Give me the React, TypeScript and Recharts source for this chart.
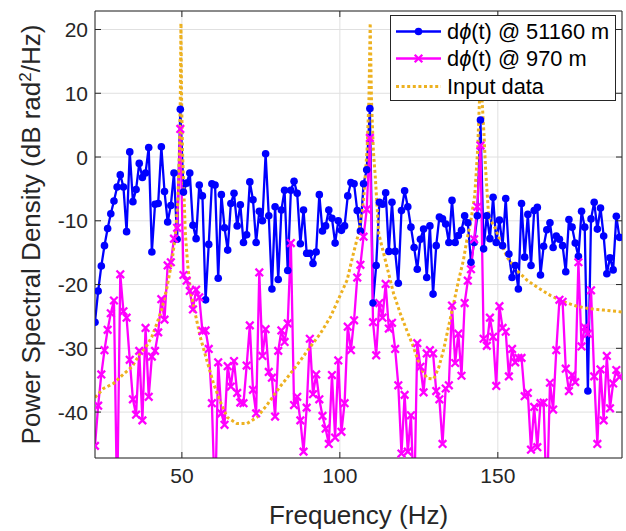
import React from "react";
import {
  LineChart,
  Line,
  XAxis,
  YAxis,
  CartesianGrid,
  Legend,
  ReferenceLine,
} from "recharts";

// frequency grid (Hz)
const freq = [
  22.5, 23.5, 24.5, 25.5, 26.5, 27.5, 28.5, 29.5, 30.5, 31.5,
  32.5, 33.5, 34.5, 35.5, 36.5, 37.5, 38.5, 39.5, 40.5, 41.5,
  42.5, 43.5, 44.5, 45.5, 46.5, 47.5, 48.5, 49.5, 50.5, 51.5,
  52.5, 53.5, 54.5, 55.5, 56.5, 57.5, 58.5, 59.5, 60.5, 61.5,
  62.5, 63.5, 64.5, 65.5, 66.5, 67.5, 68.5, 69.5, 70.5, 71.5,
  72.5, 73.5, 74.5, 75.5, 76.5, 77.5, 78.5, 79.5, 80.5, 81.5,
  82.5, 83.5, 84.5, 85.5, 86.5, 87.5, 88.5, 89.5, 90.5, 91.5,
  92.5, 93.5, 94.5, 95.5, 96.5, 97.5, 98.5, 99.5, 100.5, 101.5,
  102.5, 103.5, 104.5, 105.5, 106.5, 107.5, 108.5, 109.5, 110.5, 111.5,
  112.5, 113.5, 114.5, 115.5, 116.5, 117.5, 118.5, 119.5, 120.5, 121.5,
  122.5, 123.5, 124.5, 125.5, 126.5, 127.5, 128.5, 129.5, 130.5, 131.5,
  132.5, 133.5, 134.5, 135.5, 136.5, 137.5, 138.5, 139.5, 140.5, 141.5,
  142.5, 143.5, 144.5, 145.5, 146.5, 147.5, 148.5, 149.5, 150.5, 151.5,
  152.5, 153.5, 154.5, 155.5, 156.5, 157.5, 158.5, 159.5, 160.5, 161.5,
  162.5, 163.5, 164.5, 165.5, 166.5, 167.5, 168.5, 169.5, 170.5, 171.5,
  172.5, 173.5, 174.5, 175.5, 176.5, 177.5, 178.5, 179.5, 180.5, 181.5,
  182.5, 183.5, 184.5, 185.5, 186.5, 187.5, 188.5,
];

// dphi(t) @ 51160 m (dB rad^2/Hz)
const psdFar = [
  -25.9, -21.0, -17.1, -13.9, -11.2, -8.9, -6.9, -4.7, -2.8, -4.7,
  -11.7, 0.8, -7.0, -5.1, -1.0, -3.2, -2.5, 1.5, -14.9, -7.4,
  -7.3, 1.6, -5.4, -10.2, -7.6, -2.5, -12.9, 7.5, -5.5, -4.1,
  -2.5, -10.7, -12.8, -4.4, -6.1, -22.4, -13.7, -4.2, -4.4, -19.0,
  -5.9, -11.1, -14.6, -7.3, -5.7, -10.8, -7.5, -13.4, -12.2, -3.9,
  -6.7, -13.4, -8.5, -10.0, 0.5, -9.2, -20.7, -7.8, -19.2, -8.3,
  -5.2, -17.8, -5.2, -3.8, -5.7, -13.6, -8.3, -15.1, -15.1, -16.7,
  -14.9, -5.9, -11.6, -10.8, -8.3, -9.6, -13.5, -10.0, -11.5, -10.8,
  -6.1, -4.0, -4.2, -8.4, -11.6, -4.2, -2.0, 7.6, -22.9, -17.0,
  -7.1, -7.4, -5.6, -14.8, -7.1, -14.8, -19.8, -8.4, -5.3, -7.8,
  -11.0, -14.2, -17.6, -12.9, -11.3, -18.9, -10.8, -21.5, -13.9, -9.4,
  -9.7, -10.5, -13.4, -6.8, -13.4, -12.3, -11.5, -9.2, -10.3, -16.5,
  -13.4, -9.2, 5.8, -14.4, -9.2, -12.8, -6.3, -13.4, -9.9, -13.9,
  -6.5, -15.2, -18.9, -17.0, -20.7, -7.3, -15.7, -9.0, -17.0, -8.4,
  -7.9, -18.5, -14.0, -11.4, -10.3, -14.2, -12.4, -12.9, -13.9, -18.0,
  -9.8, -11.0, -13.5, -15.6, -8.5, -11.0, -36.7, -9.7, -7.1, -11.3,
  -8.0, -12.4, -18.3, -15.8, -17.7, -9.3, -12.6,
];

// dphi(t) @ 970 m (dB rad^2/Hz)
const psdNear = [
  -45.3, -39.0, -34.1, -30.3, -27.1, -24.5, -22.5, -55, -18.4, -24.2,
  -25.2, -31.8, -38.0, -40.4, -30.4, -41.3, -26.8, -37.6, -31.3, -30.4,
  -27.5, -22.3, -25.5, -17.0, -16.5, -12.8, -11.1, 4.4, -18.5, -19.4,
  -21.0, -23.9, -20.8, -22.0, -27.3, -27.2, -30.1, -38.6, -55, -32.2,
  -40.2, -42.0, -32.8, -36.0, -32.0, -37.0, -38.5, -38.6, -32.7, -26.4,
  -36.5, -40.2, -18.1, -31.2, -27.0, -33.7, -34.6, -40.7, -30.4, -27.2,
  -29.0, -26.1, -13.5, -38.9, -37.6, -41.3, -46.2, -39.3, -28.5, -37.2,
  -34.1, -38.0, -40.6, -42.6, -45.0, -34.2, -44.0, -31.9, -43.1, -38.6,
  -26.6, -30.3, -25.6, -18.9, -16.9, -12.5, -8.2, 3.0, -25.9, -31.1,
  -22.9, -25.2, -19.9, -26.9, -26.0, -30.1, -35.8, -46.5, -37.3, -46.2,
  -40.5, -55, -29.2, -32.9, -36.9, -30.8, -30.3, -30.8, -36.7, -38.0,
  -45.0, -36.3, -35.8, -23.3, -32.3, -27.7, -34.3, -22.9, -19.4, -17.6,
  -12.9, -7.8, 1.8, -28.5, -29.6, -25.2, -28.2, -35.9, -23.4, -26.8,
  -27.4, -34.4, -30.1, -32.2, -31.5, -31.5, -37.5, -37.0, -45.9, -39.2,
  -45.5, -38.6, -38.5, -55, -35.4, -39.6, -30.3, -22.4, -22.7, -33.2,
  -36.7, -34.2, -35.3, -16.5, -29.7, -26.7, -27.7, -20.9, -34.4, -45.0,
  -33.3, -41.3, -31.2, -39.4, -35.5, -33.4, -34.5,
];

// input data
const inputFreq = [
  22.5, 25.2, 28.4, 31.6, 34.2, 36.8, 39.0, 40.5, 42.1, 43.7,
  45.3, 46.9, 47.9, 48.7, 49.2, 49.5, 49.7, 49.9, 50.2, 50.6,
  51.1, 51.8, 52.7, 54.2, 55.8, 57.9, 60.0, 62.2, 64.3, 67.4,
  70.6, 73.8, 76.9, 81.1, 84.3, 87.5, 90.6, 93.8, 97.0, 100.1,
  102.3, 104.3, 105.9, 107.5, 108.6, 109.2, 109.6, 110.0, 110.6, 111.2,
  112.3, 112.8, 114.9, 117.0, 119.1, 121.2, 123.3, 125.4, 127.6, 129.7,
  131.3, 132.8, 134.4, 136.0, 137.6, 139.1, 140.2, 141.3, 142.7, 143.6,
  144.2, 144.6, 145.0, 145.6, 146.1, 147.1, 149.0, 150.8, 152.9, 156.1,
  159.2, 162.4, 166.6, 170.8, 175.0, 179.2, 183.5, 189.3,
];
const inputPsd = [
  -37.7, -36.3, -35.5, -34.0, -32.9, -30.8, -29.5, -28.2, -26.1, -23.8,
  -20.4, -16.2, -12.5, -7.0, 1.0, 9.0, 21.0, 9.0, 1.0, -5.0,
  -12.0, -16.7, -20.9, -24.5, -28.2, -31.9, -35.5, -38.4, -40.8, -41.8,
  -41.8, -40.8, -38.9, -36.0, -34.0, -31.9, -29.8, -27.7, -25.1, -21.7,
  -19.3, -15.1, -12.0, -6.8, 1.0, 9.0, 21.0, 9.0, 1.0, -3.0,
  -12.0, -13.0, -17.2, -21.4, -24.5, -27.2, -29.8, -32.9, -34.7, -34.8,
  -33.0, -30.3, -26.6, -23.0, -19.3, -16.2, -13.0, -10.5, -6.0, 1.0,
  9.0, 21.0, 9.0, 3.7, -1.6, -9.4, -11.0, -13.2, -15.7, -17.8,
  -19.3, -20.4, -21.7, -22.7, -23.4, -23.8, -24.0, -24.3,
];

const xTicks = [50, 100, 150];
const yTicks = [-40, -30, -20, -10, 0, 10, 20];
const seriesNames = ["dϕ(t) @ 51160 m", "dϕ(t) @ 970 m", "Input data"];

const X_DOMAIN = [22.5, 189.3];
const Y_DOMAIN = [-47.2, 22.9];

const BLUE = "#0000ff";
const MAGENTA = "#ff00ff";
const ORANGE = "#edb120";
const AXIS = "#262626";
const FONT = "'Liberation Sans', Arial, Helvetica, sans-serif";

const PLOT = { left: 95, right: 622, top: 11, bottom: 458 };

const data = freq.map((f, i) => ({ f, far: psdFar[i], near: psdNear[i] }));
const inputData = inputFreq.map((f, i) => ({ f, input: inputPsd[i] }));

function XMark(props: any) {
  const { cx, cy, index } = props;
  if (cx == null || cy == null) return <g key={`xm-${index}`} />;
  const s = 3.8;
  return (
    <path
      key={`xm-${index}`}
      d={`M${cx - s},${cy - s}L${cx + s},${cy + s}M${cx - s},${cy + s}L${cx + s},${cy - s}`}
      stroke={MAGENTA}
      strokeWidth={2.3}
      fill="none"
    />
  );
}

function XTick(props: any) {
  const { x, payload } = props;
  return (
    <g>
      <line x1={x} x2={x} y1={PLOT.bottom} y2={PLOT.bottom - 6} stroke={AXIS} />
      <line x1={x} x2={x} y1={PLOT.top} y2={PLOT.top + 6} stroke={AXIS} />
      <text x={x} y={483} textAnchor="middle" fill={AXIS} fontSize={21} fontFamily={FONT}>
        {payload.value}
      </text>
    </g>
  );
}

function YTick(props: any) {
  const { y, payload } = props;
  return (
    <g>
      <line x1={PLOT.left} x2={PLOT.left + 6} y1={y} y2={y} stroke={AXIS} />
      <line x1={PLOT.right} x2={PLOT.right - 6} y1={y} y2={y} stroke={AXIS} />
      <text x={88} y={y + 7.5} textAnchor="end" fill={AXIS} fontSize={21} fontFamily={FONT}>
        {payload.value}
      </text>
    </g>
  );
}

function XLabel() {
  return (
    <text x={(PLOT.left + PLOT.right) / 2} y={524} textAnchor="middle" fill={AXIS} fontSize={26} fontFamily={FONT}>
      Frequency (Hz)
    </text>
  );
}

function YLabel() {
  const cy = (PLOT.top + PLOT.bottom) / 2;
  return (
    <text
      x={40}
      y={cy}
      transform={`rotate(-90, 40, ${cy})`}
      textAnchor="middle"
      fill={AXIS}
      fontSize={26}
      fontFamily={FONT}
    >
      Power Spectral Density (dB rad
      <tspan fontSize={17} dy={-9}>2</tspan>
      <tspan dy={9}>/Hz)</tspan>
    </text>
  );
}

function renderName(name: string) {
  const parts = name.split("ϕ");
  if (parts.length < 2) return name;
  return (
    <>
      {parts[0]}
      <i>ϕ</i>
      {parts[1]}
    </>
  );
}

function LegendBox() {
  const samples = [
    (
      <>
        <line x1={5} x2={50} y1={13.5} y2={13.5} stroke={BLUE} strokeWidth={2.3} />
        <circle cx={27.5} cy={13.5} r={3.8} fill={BLUE} />
      </>
    ),
    (
      <>
        <line x1={5} x2={50} y1={13.5} y2={13.5} stroke={MAGENTA} strokeWidth={2.3} />
        <path d="M23.7,9.7L31.3,17.3M23.7,17.3L31.3,9.7" stroke={MAGENTA} strokeWidth={2.3} />
      </>
    ),
    (
      <line x1={5} x2={50} y1={13.5} y2={13.5} stroke={ORANGE} strokeWidth={3} strokeDasharray="3 2.6" />
    ),
  ];
  return (
    <div
      style={{
        width: 226,
        height: 86,
        boxSizing: "border-box",
        border: `1px solid ${AXIS}`,
        background: "#fff",
        fontFamily: FONT,
        fontSize: 21.8,
        color: "#000",
        paddingTop: 2,
      }}
    >
      {seriesNames.map((name, i) => (
        <div key={name} style={{ display: "flex", alignItems: "center", height: 27.3 }}>
          <svg width={56} height={27} style={{ flex: "none" }}>
            {samples[i]}
          </svg>
          <span style={{ whiteSpace: "nowrap", lineHeight: "27px" }}>{renderName(name)}</span>
        </div>
      ))}
    </div>
  );
}

export default function App() {
  return (
    <div style={{ position: "absolute", left: 0, top: 0, width: 626, height: 531, background: "#fff" }}>
      <LineChart
        width={626}
        height={531}
        data={data}
        margin={{ top: 11, right: 4, left: 0, bottom: 0 }}
      >
        <CartesianGrid stroke="#e0e0e0" strokeWidth={1} />
        <XAxis
          dataKey="f"
          type="number"
          domain={X_DOMAIN}
          allowDataOverflow
          ticks={xTicks}
          height={73}
          axisLine={{ stroke: AXIS }}
          tickLine={false}
          tick={<XTick />}
          label={<XLabel />}
        />
        <YAxis
          type="number"
          domain={Y_DOMAIN}
          allowDataOverflow
          ticks={yTicks}
          width={95}
          axisLine={{ stroke: AXIS }}
          tickLine={false}
          tick={<YTick />}
          label={<YLabel />}
        />
        <ReferenceLine y={Y_DOMAIN[1]} stroke={AXIS} />
        <ReferenceLine x={X_DOMAIN[1]} stroke={AXIS} />
        <Line
          type="linear"
          dataKey="far"
          name={seriesNames[0]}
          stroke={BLUE}
          strokeWidth={2.3}
          dot={{ r: 3.8, fill: BLUE, stroke: BLUE, strokeWidth: 0 }}
          isAnimationActive={false}
        />
        <Line
          type="linear"
          dataKey="near"
          name={seriesNames[1]}
          stroke={MAGENTA}
          strokeWidth={2.3}
          dot={(p: any) => <XMark {...p} />}
          isAnimationActive={false}
        />
        <Line
          type="linear"
          data={inputData}
          dataKey="input"
          name={seriesNames[2]}
          stroke={ORANGE}
          strokeWidth={3}
          strokeDasharray="3 2.6"
          dot={false}
          isAnimationActive={false}
        />
        <Legend
          layout="horizontal"
          verticalAlign="middle"
          align="center"
          wrapperStyle={{ top: 15, left: 390, width: 226, height: 86 }}
          content={() => <LegendBox />}
        />
      </LineChart>
    </div>
  );
}
